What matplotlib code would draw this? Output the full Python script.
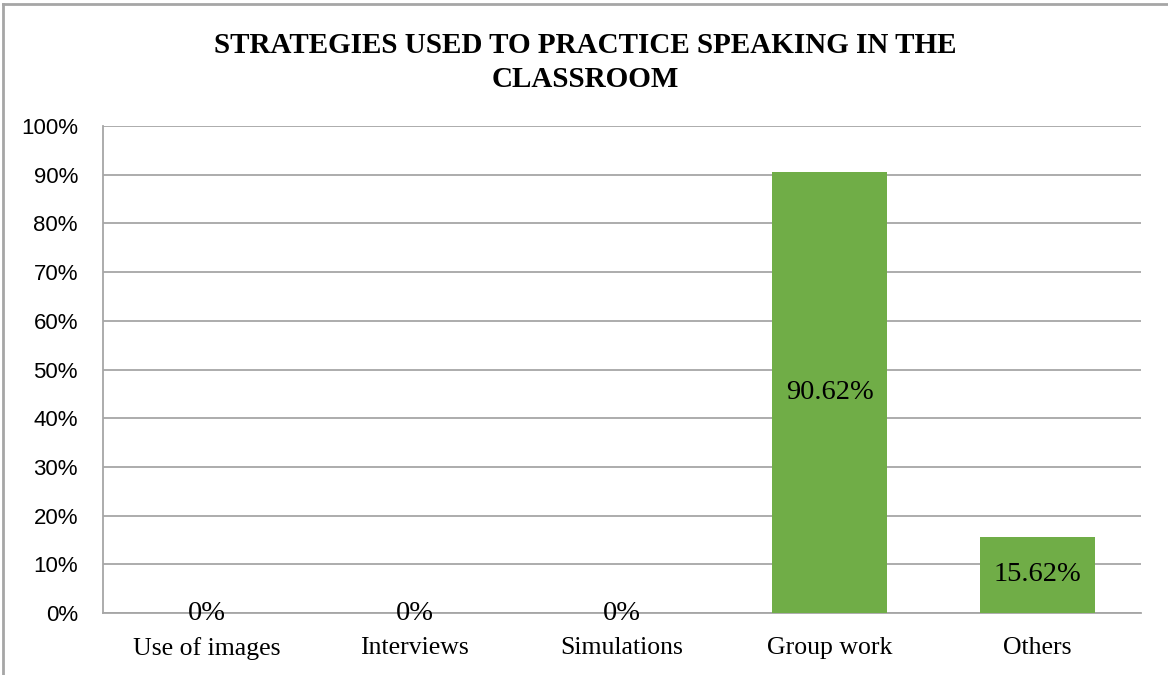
import numpy as np
import matplotlib.pyplot as plt
from matplotlib.lines import Line2D

# data
categories = ["Use of images", "Interviews", "Simulations", "Group work", "Others"]
values = [0, 0, 0, 90.62, 15.62]
value_labels = ["0%", "0%", "0%", "90.62%", "15.62%"]
y_ticks = [0, 10, 20, 30, 40, 50, 60, 70, 80, 90, 100]
title_lines = ["STRATEGIES USED TO PRACTICE SPEAKING IN THE", "CLASSROOM"]

BAR_COLOR = "#70AD47"
GRID_COLOR = "#A6A6A6"
SERIF = ["Liberation Serif", "DejaVu Serif"]
SANS = ["Liberation Sans", "DejaVu Sans"]

W, H = 1168, 675
fig = plt.figure(figsize=(W / 100, H / 100), dpi=100)
ax = fig.add_axes([103 / W, 1 - 613 / H, 1038 / W, 487 / H])

x = np.arange(len(categories))
ax.bar(x, values, width=0.555, color=BAR_COLOR, zorder=3)

for xi, v, lab in zip(x, values, value_labels):
    ax.text(xi, v / 2, lab, ha="center", va="center",
            fontsize=20.5, family=SERIF, color="black", zorder=4)

ax.set_xlim(-0.5, len(categories) - 0.5)
ax.set_ylim(0, 100)
ax.set_yticks(y_ticks)
ax.set_yticklabels([f"{t}%" for t in y_ticks], family=SANS, fontsize=16)
ax.set_xticks(x)
ax.set_xticklabels(categories, family=SERIF, fontsize=18.5)
ax.tick_params(axis="y", length=0, pad=18)
ax.tick_params(axis="x", length=0, pad=17)

ax.yaxis.grid(True, color=GRID_COLOR, linewidth=1.3, zorder=0)
ax.set_axisbelow(True)
for side in ["top", "right"]:
    ax.spines[side].set_visible(False)
for side in ["left", "bottom"]:
    ax.spines[side].set_color(GRID_COLOR)
    ax.spines[side].set_linewidth(1.3)

# two-line title, one text per line
for line, base_y in zip(title_lines, [53, 87]):
    fig.text(585 / W, 1 - base_y / H, line, ha="center", va="baseline",
             fontsize=21, fontweight="bold", family=SERIF)

# chart frame (partly cropped in the source)
fig.add_artist(Line2D([2.5 / W, 2.5 / W], [0, 1 - 4 / H],
                      transform=fig.transFigure, color=GRID_COLOR, linewidth=2))
fig.add_artist(Line2D([2.5 / W, 1], [1 - 4 / H, 1 - 4 / H],
                      transform=fig.transFigure, color=GRID_COLOR, linewidth=2))

fig.savefig("out.png", dpi=100)
